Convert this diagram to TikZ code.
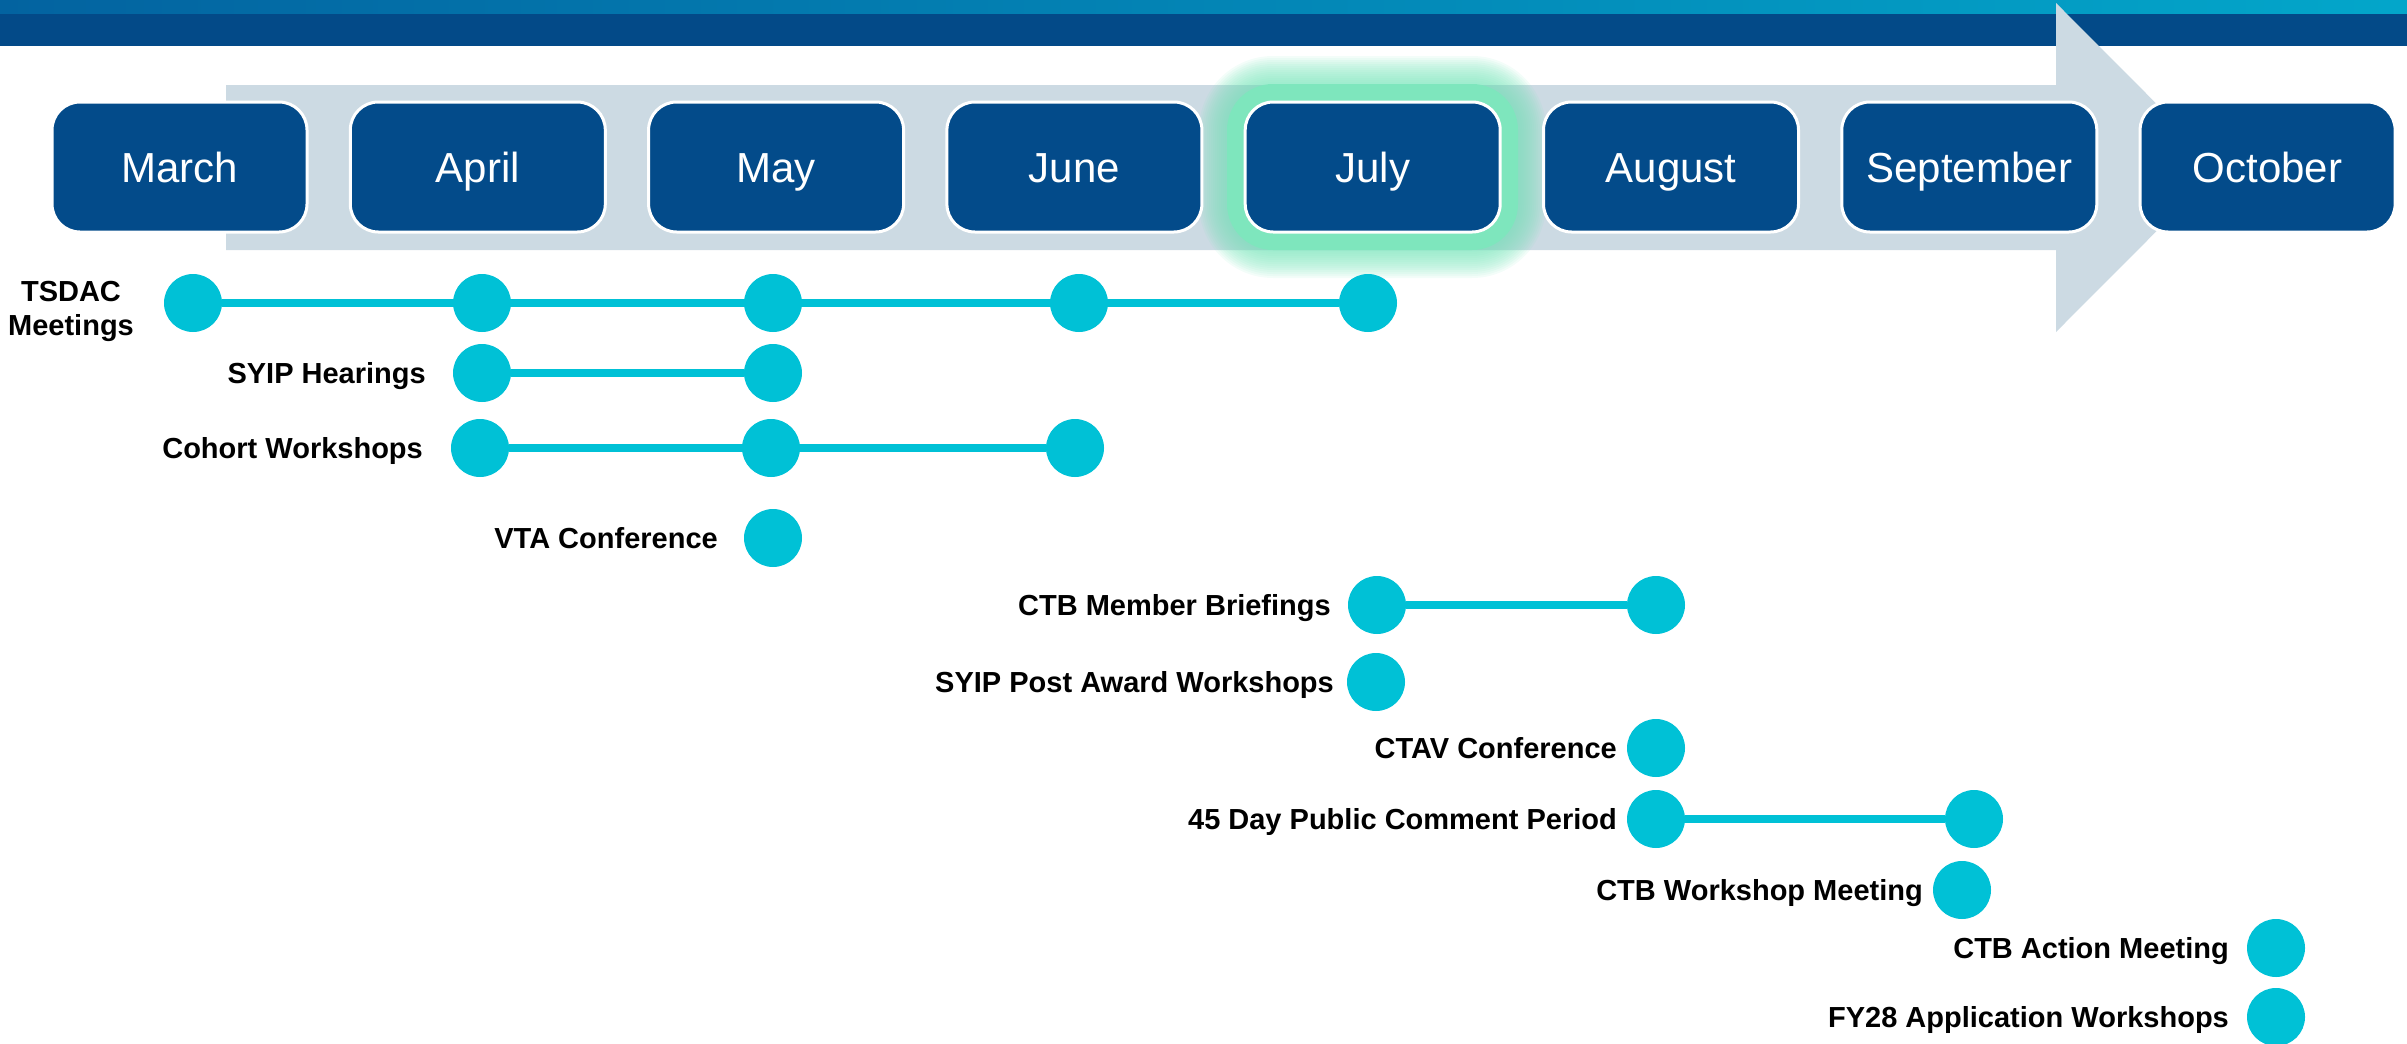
\documentclass[tikz,border=0pt]{standalone}
\usepackage{fontspec}
\setmainfont{Liberation Sans}
\definecolor{navy}{HTML}{034B8A}
\definecolor{bannerdark}{HTML}{034A88}
\definecolor{bannerL}{HTML}{0363A0}
\definecolor{bannerR}{HTML}{03A6CA}
\definecolor{arrowc}{HTML}{CCDAE3}
\definecolor{glowc}{HTML}{7EE6BD}
\definecolor{evcyan}{HTML}{00C1D6}
\begin{document}
\begin{tikzpicture}[x=1pt,y=-1pt,
  month/.style={draw=white, line width=3pt, fill=navy, rounded corners=28pt,
    minimum width=255pt, minimum height=130pt, text=white,
    font=\fontsize{42}{50}\selectfont, text height=30pt, text depth=0pt, inner sep=0pt},
  dot/.style={circle, fill=evcyan, minimum size=58pt, inner sep=0pt},
  span/.style={draw=evcyan, line width=7.5pt},
  labfont/.style={font=\bfseries\fontsize{29}{34}\selectfont, inner sep=0pt, text=black},
  lab/.style={labfont, anchor=east, text height=20.8pt, text depth=0pt}]
\useasboundingbox (0,0) rectangle (2407,1044);
\clip (0,0) rectangle (2407,1044);
% banner
\shade[left color=bannerL, right color=bannerR] (0,0) rectangle (2407,14);
\fill[bannerdark] (0,14) rectangle (2407,46);
% big arrow
\fill[arrowc] (226,85) -- (2056,85) -- (2056,3) -- (2220,167.5) -- (2056,332) -- (2056,250) -- (226,250) -- cycle;
% glow around July
\foreach \d [evaluate=\d as \r using 28+\d] in {46,44,...,20} {
  \fill[glowc, opacity=0.09, rounded corners=\r pt] (1245-\d,102-\d) rectangle (1500+\d,232+\d);
}
\fill[glowc, rounded corners=46pt] (1227,84) rectangle (1518,250);
% months
\node[month] (mar) at (179.5,167) {March};
\node[month] (apr) at (477.8,167) {April};
\node[month] (may) at (776.1,167) {May};
\node[month] (jun) at (1074.4,167) {June};
\node[month] (jul) at (1372.7,167) {July};
\node[month] (aug) at (1671,167) {August};
\node[month] (sep) at (1969.3,167) {September};
\node[month] (oct) at (2267.6,167) {October};
% TSDAC
\node[dot] (t1) at (193,303) {};
\node[dot] (t2) at (482,303) {};
\node[dot] (t3) at (773,303) {};
\node[dot] (t4) at (1079,303) {};
\node[dot] (t5) at (1368,303) {};
\draw[span] (t1) -- (t5);
\node[labfont, anchor=north, align=center] (lt) at (71,281) {TSDAC\\Meetings};
% SYIP Hearings
\node[dot] (s1) at (482,373) {};
\node[dot] (s2) at (773,373) {};
\draw[span] (s1) -- (s2);
\node[lab] (ls) at (426,373) {SYIP Hearings};
% Cohort
\node[dot] (c1) at (480,448) {};
\node[dot] (c2) at (771,448) {};
\node[dot] (c3) at (1075,448) {};
\draw[span] (c1) -- (c3);
\node[lab] (lc) at (423,448) {Cohort Workshops};
% VTA
\node[dot] (v1) at (773,538) {};
\node[lab] (lv) at (718,538) {VTA Conference};
% CTB Member Briefings
\node[dot] (b1) at (1377,605) {};
\node[dot] (b2) at (1656,605) {};
\draw[span] (b1) -- (b2);
\node[lab] (lb) at (1331,605) {CTB Member Briefings};
% SYIP Post Award
\node[dot] (p1) at (1376,682) {};
\node[lab] (lp) at (1334,682) {SYIP Post Award Workshops};
% CTAV
\node[dot] (a1) at (1656,748) {};
\node[lab] (la) at (1617,748) {CTAV Conference};
% 45 Day
\node[dot] (d1) at (1656,819) {};
\node[dot] (d2) at (1974,819) {};
\draw[span] (d1) -- (d2);
\node[lab] (ld) at (1617,819) {45 Day Public Comment Period};
% CTB Workshop Meeting
\node[dot] (w1) at (1962,890) {};
\node[lab] (lw) at (1923,890) {CTB Workshop Meeting};
% CTB Action Meeting
\node[dot] (x1) at (2276,948) {};
\node[lab] (lx) at (2229,948) {CTB Action Meeting};
% FY28
\node[dot] (f1) at (2276,1017) {};
\node[lab] (lf) at (2229,1017) {FY28 Application Workshops};
\end{tikzpicture}
\end{document}
